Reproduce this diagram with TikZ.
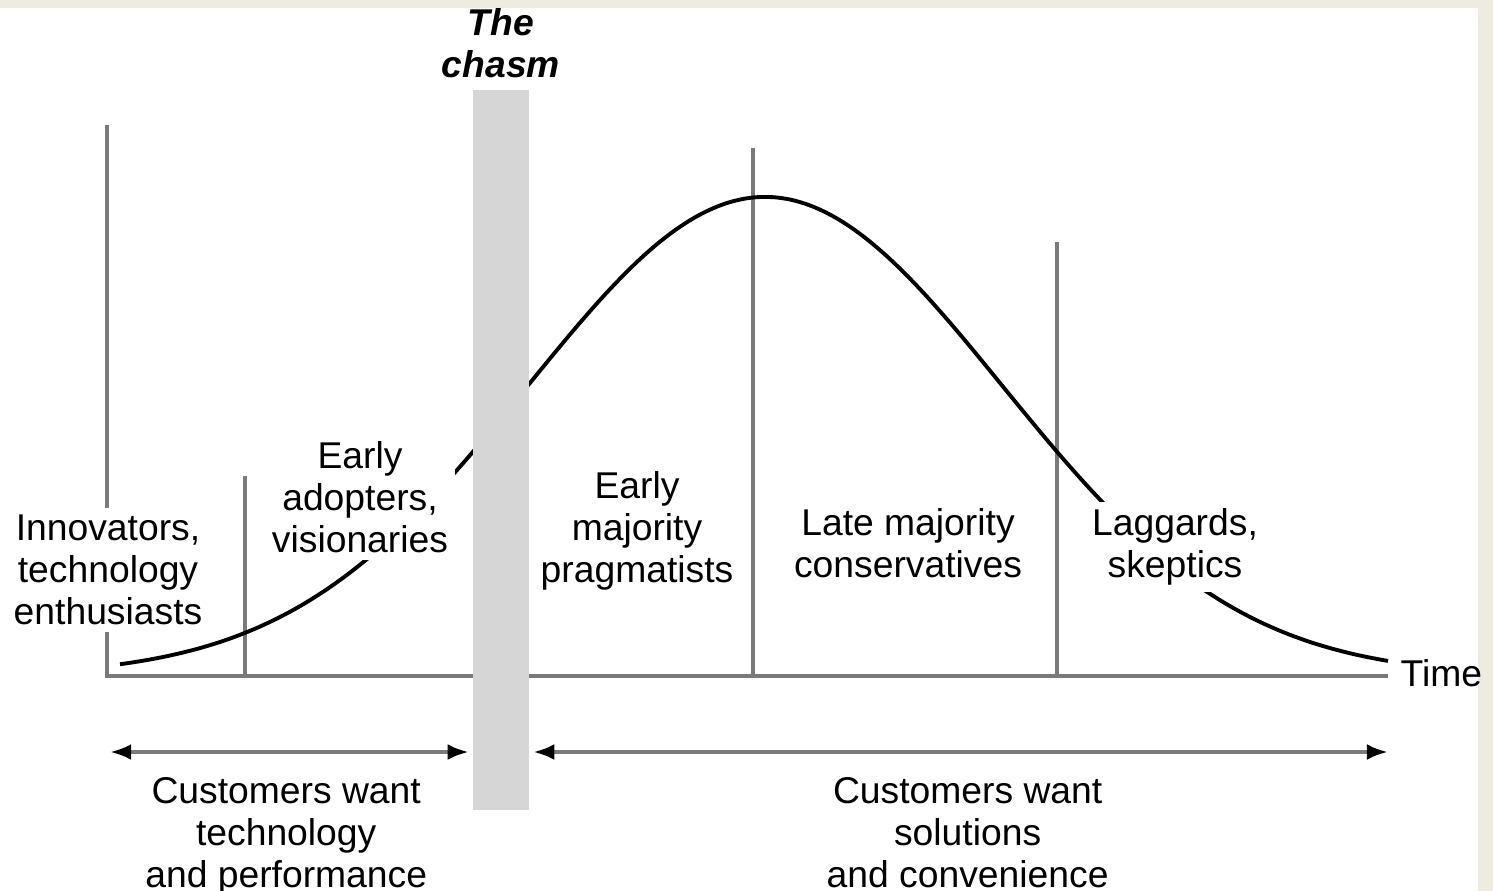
\documentclass[tikz,border=0pt]{standalone}
\usepackage{fontspec}
\setmainfont{Liberation Sans}
\usepackage{tikz}
\usetikzlibrary{arrows.meta,positioning}
\definecolor{chasmgray}{RGB}{214,214,214}
\definecolor{axisgray}{RGB}{122,122,122}
\definecolor{framecol}{RGB}{238,235,225}
\tikzstyle{axisline} = [draw=axisgray, line width=1pt]
\tikzstyle{bellcurve} = [draw=black, line width=1.1pt]
\tikzstyle{grouptext} = [fill=white, align=center, inner sep=2pt, font=\fontsize{10.6}{11.9}\selectfont]
\tikzstyle{chasmtext} = [align=center, inner sep=0pt, font=\fontsize{10.6}{11.9}\selectfont\bfseries\itshape]
\tikzstyle{chasmbar} = [fill=chasmgray, draw=none, inner sep=0pt, minimum width=0.56cm, minimum height=7.2cm]
\tikzstyle{spanarrow} = [draw=axisgray, line width=1.1pt, <->]

\begin{document}
\begin{tikzpicture}[x=0.01cm, y=-0.01cm, >={Latex[black,length=6pt,width=4.5pt]}]
    % Page size and the beige frame
    \useasboundingbox (0,0) rectangle (1493,891);
    \fill[framecol] (0,0) rectangle (1493,8);
    \fill[framecol] (1478,0) rectangle (1493,891);

    % Axes and the dividers between the groups
    \coordinate (origin) at (107,676);
    \coordinate (axistop) at (107,125);
    \coordinate (axisend) at (1388,676);
    \coordinate (innovbot) at (245,676);
    \coordinate (innovtop) at (245,476);
    \coordinate (earlybot) at (753,676);
    \coordinate (earlytop) at (753,148);
    \coordinate (latebot) at (1057,676);
    \coordinate (latetop) at (1057,242);
    \draw[axisline] (axistop) -- (origin) -- (axisend);
    \draw[axisline] (innovbot) -- (innovtop);
    \draw[axisline] (earlybot) -- (earlytop);
    \draw[axisline] (latebot) -- (latetop);

    % The adoption curve
    \draw[bellcurve] plot[domain=120:1388, samples=160, smooth]
        (\x, {676-479*exp(-0.5*((\x-765)/237)^2)});

    % Group labels (the white fill breaks the lines)
    \node[grouptext] (innovators) at (108,570) {Innovators,\\technology\\enthusiasts};
    \node[grouptext] (adopters) at (360,497) {Early\\adopters,\\visionaries};
    \node[grouptext] (earlymaj) at (637,531) {Early\\majority\\pragmatists};
    \node[grouptext] (latemaj) at (908,543) {Late majority\\conservatives};
    \node[grouptext] (laggards) at (1175,547) {Laggards,\\skeptics};
    \node[grouptext, fill=none, anchor=west] (time) at (1393,673) {Time};

    % The chasm
    \node[chasmbar] (chasm) at (501,450) {};
    \node[chasmtext, above=3pt of chasm] (chasmtitle) {The\\chasm};

    % What customers want on each side
    \coordinate (techstart) at (110,752);
    \coordinate (solend) at (1388,752);
    \draw[spanarrow, shorten >=1pt] (techstart) -- coordinate (techmid) (chasm.west |- techstart);
    \draw[spanarrow, shorten <=1pt] (chasm.east |- solend) -- coordinate (solmid) (solend);
    \node[grouptext, below=5pt of techmid, xshift=-1.4pt] (techwant) {Customers want\\technology\\and performance};
    \node[grouptext, below=5pt of solmid, xshift=2.5pt] (solwant) {Customers want\\solutions\\and convenience};
\end{tikzpicture}
\end{document}
